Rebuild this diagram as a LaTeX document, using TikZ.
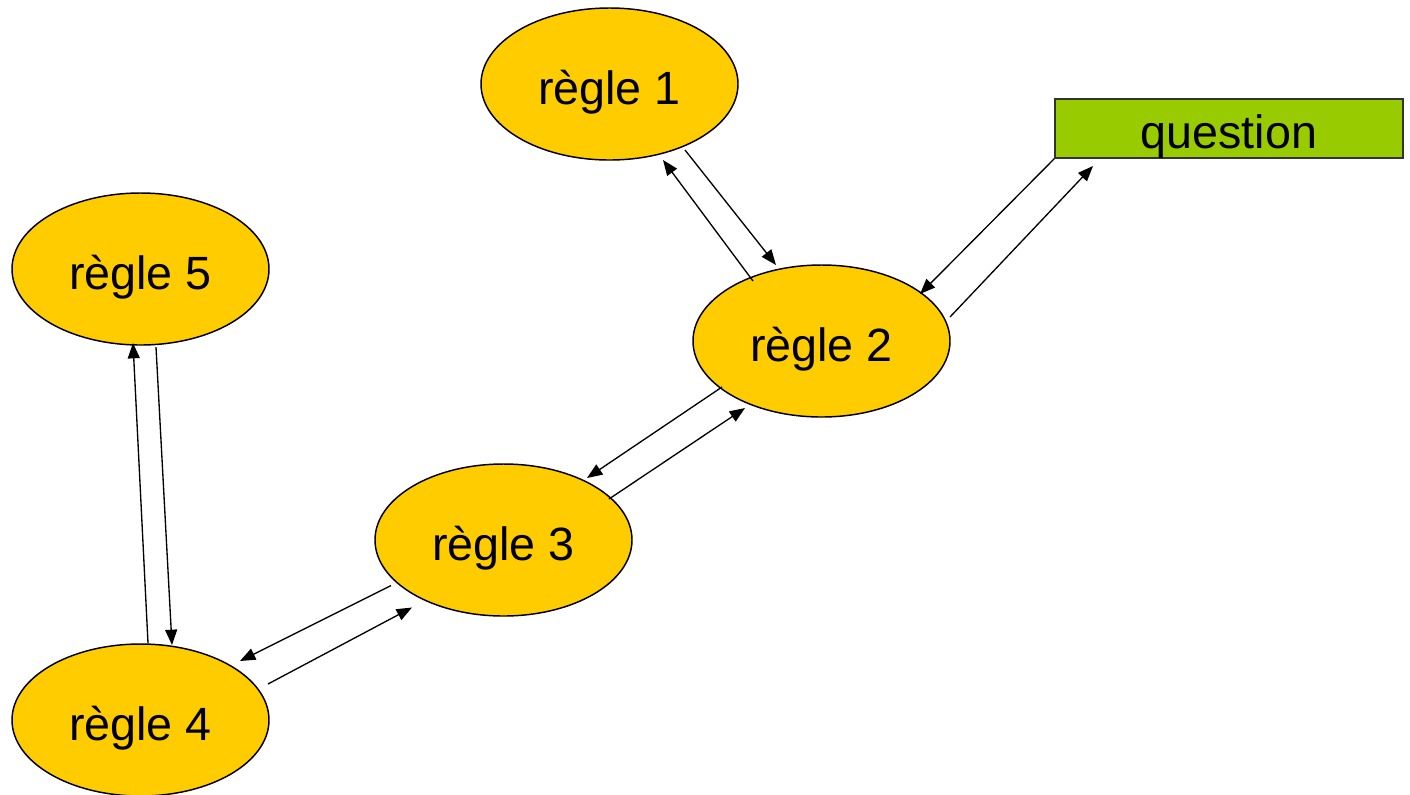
\documentclass[tikz,border=0pt]{standalone}
\usepackage{fontspec}
\setmainfont{Liberation Sans}
\usetikzlibrary{shapes.geometric,arrows.meta}
\definecolor{regleyellow}{HTML}{FFCC00}
\definecolor{questgreen}{HTML}{99CC00}
\tikzset{
  regle/.style={ellipse, draw=black, line width=1.1pt, fill=regleyellow,
    minimum width=192.75pt, minimum height=114pt, inner sep=0pt,
    text height=30pt, text depth=0pt,
    font=\fontsize{35}{42}\selectfont},
  questbox/.style={rectangle, draw=black!80, line width=1pt, fill=questgreen,
    minimum width=261pt, minimum height=44.25pt, inner sep=0pt,
    text height=30pt, text depth=0pt,
    font=\fontsize{35}{42}\selectfont},
  link/.style={line width=1pt, -{Triangle[length=11.5pt,width=9pt]}}
}
\begin{document}
\begin{tikzpicture}[x=0.75pt,y=-0.75pt]
\useasboundingbox (0,0) rectangle (1410,794);
\node[regle] (r1) at (609.5,84) {règle 1};
\node[regle] (r2) at (821.5,341) {règle 2};
\node[regle] (r3) at (503.5,540) {règle 3};
\node[regle] (r4) at (140.5,720) {règle 4};
\node[regle] (r5) at (140.5,269) {règle 5};
\node[questbox] (q) at (1229,128.5) {question};
% connector end points
\coordinate (a1s) at (685,150);   \coordinate (a1e) at (776,265);
\coordinate (a2s) at (753,281);   \coordinate (a2e) at (663,160);
\coordinate (a3s) at (q.south west); \coordinate (a3e) at (920,294);
\coordinate (a4s) at (950,317);   \coordinate (a4e) at (1093,166);
\coordinate (a5s) at (722,387);   \coordinate (a5e) at (587,478);
\coordinate (a6s) at (609,499);   \coordinate (a6e) at (745,408);
\coordinate (a7s) at (391,585.5); \coordinate (a7e) at (240,661);
\coordinate (a8s) at (268,684);   \coordinate (a8e) at (412,607.5);
\coordinate (a9s) at (148,643);   \coordinate (a9e) at (133,343);
\coordinate (a10s) at (156,347);  \coordinate (a10e) at (172,645);
\draw[link] (a1s) -- (a1e);
\draw[link] (a2s) -- (a2e);
\draw[link] (a3s) -- (a3e);
\draw[link] (a4s) -- (a4e);
\draw[link] (a5s) -- (a5e);
\draw[link] (a6s) -- (a6e);
\draw[link] (a7s) -- (a7e);
\draw[link] (a8s) -- (a8e);
\draw[link] (a9s) -- (a9e);
\draw[link] (a10s) -- (a10e);
\end{tikzpicture}
\end{document}
